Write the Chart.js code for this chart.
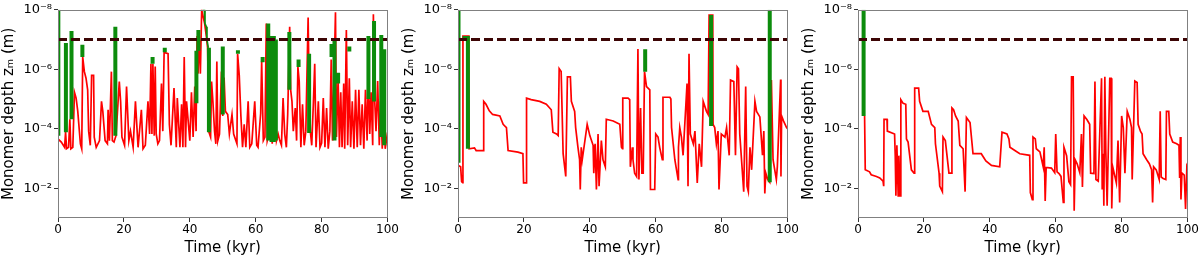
<!DOCTYPE html>
<html>
<head>
<meta charset="utf-8">
<script src="https://cdn.jsdelivr.net/npm/chart.js@4.4.1/dist/chart.umd.min.js"></script>
<style>
  html, body { margin: 0; padding: 0; background: #fff; }
  #wrap { position: relative; width: 1200px; height: 257px; }
  .panel { position: absolute; top: 0; width: 400px; height: 257px; }
</style>
</head>
<body>
<div id="wrap">
  <div class="panel" style="left:0px"><canvas id="c1" width="400" height="257"></canvas></div>
  <div class="panel" style="left:400px"><canvas id="c2" width="400" height="257"></canvas></div>
  <div class="panel" style="left:800px"><canvas id="c3" width="400" height="257"></canvas></div>
</div>
<script>
/* Monomer depth vs time, three runs.
   red = depth track [t (kyr), z (m)], green = marked intervals [t, z top, z bottom] */

const xTickValues = [0, 20, 40, 60, 80, 100];
const yTickValues = [1e-8, 1e-6, 1e-4, 1e-2];
const yTickLabels = ['10⁻⁸', '10⁻⁶', '10⁻⁴', '10⁻²'];
const threshold = 1e-7;

const red1 = [
  [0,2.2e-4],[1,2.8e-4],[2,4.2e-4],[2.3,1.3e-4],[2.6,4.7e-4],[3.2,4.2e-4],[3.6,4.8e-5],[3.9,4.7e-4],[4.5,4.2e-4],[5.0,5.9e-6],
  [5.5,9.3e-6],[6.0,2.6e-5],[6.8,3.2e-4],[7.2,4.7e-4],[7.5,3.9e-7],[8.0,1.2e-6],[8.5,2.0e-6],[9.0,4.9e-6],[9.3,1.2e-4],[9.8,3.6e-4],
  [10.2,1.6e-6],[10.8,1.6e-6],[11.0,1.9e-4],[11.6,4.2e-4],[12.6,2.5e-4],[13.2,1.2e-5],[13.6,2.6e-5],[14.3,2.5e-4],[15.0,3.2e-4],[15.2,2.3e-5],
  [15.6,2.5e-4],[16.2,1.2e-6],[16.5,2.5e-4],[17.0,2.8e-4],[17.6,1.7e-4],[18.3,9.3e-6],[18.6,2.6e-6],[19.0,1.2e-5],[19.4,1.9e-4],[20.2,3.6e-4],
  [20.8,3.8e-6],[21.5,2.5e-4],[22.0,1.2e-4],[22.8,4.2e-4],[23.5,1.2e-5],[24.3,4.2e-4],[25.3,2.3e-5],[25.8,4.7e-4],[26.5,3.6e-4],[27.3,1.2e-5],
  [27.8,1.5e-4],[28.2,6.5e-7],[28.5,1.5e-4],[28.8,6.5e-7],[29.2,1.7e-4],[29.5,8e-7],[29.8,1.5e-4],[30.3,3.2e-4],[30.8,2.5e-4],[31.4,3.0e-6],
  [31.8,1.2e-4],[32.2,2.7e-7],[33.4,3.0e-7],[33.8,7.1e-5],[34.3,3.6e-4],[35.2,4.3e-6],[35.9,4.2e-4],[36.2,9.3e-6],[37.0,4.2e-4],[37.5,1.5e-5],
  [37.9,4.2e-4],[38.3,3.9e-7],[38.7,4.2e-4],[39.0,1.2e-5],[40.0,2.5e-4],[40.5,5.9e-6],[41.0,1.9e-4],[41.5,3.8e-6],[41.9,1.2e-4],[42.2,7.6e-8],
  [42.5,1.4e-6],[42.8,5.2e-8],[43.2,1.4e-6],[43.6,1.0e-8],[44.5,2.9e-8],[45.0,7.6e-8],[45.4,1.9e-7],[45.8,1.3e-4],[46.3,1.9e-4],[46.6,2.6e-6],
  [47.0,1.2e-5],[47.5,1.2e-4],[47.9,3.2e-4],[48.2,5.5e-7],[48.5,2.5e-4],[49.0,1.5e-4],[49.6,1.2e-6],[50.0,3.7e-5],[50.4,1.9e-6],[50.8,2.6e-5],
  [51.5,3.3e-5],[52.0,1.5e-4],[52.8,3.3e-5],[53.3,1.5e-4],[54.3,3.2e-4],[54.5,3.0e-7],[55.0,1.6e-6],[55.5,3.7e-5],[56.0,4.2e-4],[56.5,7.1e-5],
  [57.0,4.2e-4],[57.7,1.2e-5],[58.2,4.2e-4],[58.8,3.2e-4],[59.7,1.2e-5],[60.3,3.6e-4],[60.7,4.2e-4],[61.5,3.0e-5],[61.8,5.5e-7],[62.3,2.5e-4],
  [62.8,1.9e-4],[63.2,2.9e-8],[63.5,2.5e-4],[64.0,1.5e-4],[64.5,1.2e-5],[65.0,3.2e-4],[65.8,1.5e-5],[66.3,2.5e-4],[66.8,1.5e-4],[67.3,2.5e-4],
  [67.8,3.6e-4],[68.3,9.3e-6],[68.8,1.5e-4],[69.3,4.2e-4],[69.7,3.3e-5],[70.3,3.7e-8],[70.6,4.9e-6],[71.0,1.2e-5],[71.4,1.2e-4],[72.0,2.0e-5],
  [72.4,2.5e-4],[72.8,8.3e-7],[73.2,2.6e-6],[73.7,4.2e-4],[74.2,1.5e-5],[74.7,3.6e-4],[75.2,1.2e-4],[75.9,1.8e-8],[76.2,4.9e-6],[76.6,1.3e-4],
  [77.0,3.6e-4],[77.5,1.3e-5],[77.9,6.5e-7],[78.3,4.2e-4],[79.0,1.2e-5],[79.5,4.2e-4],[80.0,3.0e-4],[80.5,9.3e-6],[81.0,4.2e-4],[81.5,2.0e-5],
  [82.0,4.7e-4],[82.5,1.2e-4],[82.9,4.7e-7],[83.3,2.5e-4],[83.8,1.2e-6],[84.2,1.2e-8],[84.5,1.9e-4],[85.0,2.0e-6],[85.4,4.2e-4],[85.8,5.9e-6],
  [86.2,4.2e-4],[86.7,3.0e-6],[87.0,4.7e-4],[87.5,4.8e-8],[87.9,3.6e-4],[88.4,2.0e-6],[88.8,4.2e-4],[89.3,1.2e-5],[89.8,4.7e-4],[90.3,4.9e-6],
  [90.8,4.2e-4],[91.3,4.9e-6],[91.8,3.6e-4],[92.3,1.5e-5],[92.8,4.7e-4],[93.3,4.9e-6],[93.8,2.5e-4],[94.2,1.2e-6],[94.6,1.5e-4],[95.0,5.9e-6],
  [95.5,3.6e-4],[95.7,1.4e-8],[96.0,5.9e-6],[96.5,1.2e-4],[97.0,2.5e-6],[97.5,3.6e-4],[97.9,1.2e-5],[98.4,4.7e-4],[98.8,2.6e-5],[99.3,4.7e-4],
  [99.8,1.9e-4],[100,2.5e-4]
];
const green1 = [
  [0.1,1e-8,1.7e-4],[2.4,1.3e-7,1.3e-4],[4.1,5.2e-8,4.8e-5],[7.4,1.5e-7,3.9e-7],[17.4,3.7e-8,1.7e-4],[28.7,3.9e-7,6.5e-7],
  [32.4,1.9e-7,2.7e-7],[42.0,2.4e-7,1.4e-5],[42.6,4.8e-8,2.4e-7],[45.8,1.9e-7,1.3e-4],[50.0,1.7e-7,3.3e-5],[54.6,2.3e-7,3.0e-7],
  [62.1,3.9e-7,5.8e-7],[63.8,2.9e-8,2.5e-4],[64.8,7.6e-8,2.8e-4],[65.5,7.6e-8,2.8e-4],[66.1,1.0e-7,2.5e-4],[70.2,5.6e-8,4.9e-6],
  [73.0,4.7e-7,8.3e-7],[76.2,3.0e-7,1.4e-4],[83.0,1.4e-7,3.9e-7],[83.9,1.0e-7,2.5e-4],[85.0,1.3e-6,3.0e-6],[88.4,1.7e-7,2.5e-7],
  [94.2,7.6e-8,1.0e-5],[95.9,2.4e-8,1.2e-5],[98.1,7.0e-8,1.9e-4],[99.0,2.1e-7,3.6e-4]
];
const greenTrail1 = [[43.9,1e-8],[44.4,1.0e-8],[44.6,2.9e-8],[45.0,3.7e-8],[45.2,1.0e-7],[45.6,1.9e-7]];

const red2 = [
  [0,1.7e-3],[0.8,1.9e-3],[1.1,6e-3],[1.4,6.5e-3],[1.5,7.6e-8],[3.3,7.6e-8],[3.4,4.7e-4],[5.0,4.4e-4],[5.5,5.4e-4],[7.6,5.4e-4],
  [7.8,1.2e-5],[8.5,1.5e-5],[9.5,2.5e-5],[10.5,3.3e-5],[12.7,3.7e-5],[13.7,7.1e-5],[14.7,9.1e-5],[15.2,5.4e-4],[18.2,6.1e-4],[19.7,6.9e-4],
  [19.9,6.6e-3],[20.7,6.6e-3],[20.8,9.3e-6],[22.2,1.05e-5],[24.8,1.2e-5],[26.8,1.5e-5],[28.3,2.3e-5],[28.8,1.3e-4],[29.9,1.5e-4],[30.4,1.7e-4],
  [30.7,9.6e-7],[31.3,1.2e-6],[31.9,6.9e-4],[32.7,4.0e-3],[33.2,1.8e-6],[34.1,1.8e-6],[34.4,1.2e-5],[35.4,2.6e-5],[35.7,9.1e-5],[36.4,4.2e-4],
  [36.9,1.1e-3],[37.1,1.1e-2],[37.4,4.2e-4],[37.7,1.1e-3],[39.2,7.1e-5],[40.0,1.7e-4],[41.0,3.6e-4],[41.2,3.1e-3],[41.6,3.2e-4],[42.0,1.1e-2],
  [42.5,1.5e-4],[42.8,8.5e-3],[43.5,2.5e-4],[44.0,1.1e-3],[44.7,1.9e-3],[45.0,4.8e-5],[47.1,5.5e-5],[49.1,7.1e-5],[49.6,4.2e-4],[49.9,4.7e-4],
  [50.0,9.3e-6],[51.6,9.3e-6],[52.1,1.05e-5],[52.3,1.9e-3],[52.9,4.2e-4],[53.1,1.1e-3],[53.6,3.1e-3],[54.2,4.0e-3],[54.6,2.1e-7],[54.9,5.1e-3],
  [55.4,2.0e-5],[55.8,3.1e-3],[56.2,3.1e-3],[56.6,1.2e-6],[57.2,3.8e-6],[58.2,4.9e-6],[58.4,1.1e-2],[59.7,1.1e-2],[60.0,1.5e-4],[60.7,1.9e-4],
  [61.2,4.2e-4],[62.0,1.1e-3],[62.2,8.7e-6],[64.3,8.7e-6],[64.6,1.0e-5],[64.8,9.1e-5],[65.8,1.1e-3],[66.8,5.1e-3],[66.9,4.2e-4],[67.3,9.1e-5],
  [67.8,1.9e-4],[68.3,7.8e-4],[69.5,3.0e-6],[69.8,8.5e-3],[70.1,3.0e-7],[70.5,1.5e-4],[71.4,3.2e-4],[71.9,1.2e-4],[72.6,6.6e-3],[73.2,3.2e-4],
  [73.9,1.9e-3],[74.4,1.2e-5],[75.4,2.6e-5],[75.9,3.3e-5],[76.2,1.5e-8],[77.3,1.5e-8],[77.4,7.1e-5],[77.9,9.1e-5],[78.4,3.2e-4],[78.9,1.2e-4],
  [79.2,1.1e-2],[79.9,1.5e-4],[81.0,1.9e-4],[81.5,9.1e-5],[82.3,7.8e-4],[82.7,2.3e-6],[83.7,2.6e-6],[84.2,7.8e-4],[84.7,8.3e-7],[85.1,9.6e-7],
  [85.5,1.5e-4],[86.7,1.3e-2],[87.3,3.8e-6],[87.7,8.5e-3],[88.1,1.3e-2],[88.6,4.2e-4],[89.1,2.4e-3],[90.1,1.2e-5],[90.6,2.6e-5],[91.6,4.0e-5],
  [92.4,7.8e-4],[92.8,1.2e-4],[93.1,1.5e-2],[93.4,3.1e-3],[94.0,5.1e-3],[94.6,6.3e-3],[95.1,2.3e-6],[95.6,1.1e-3],[96.6,5.1e-3],[96.9,1.9e-3],
  [97.9,2.2e-6],[98.0,4.0e-3],[98.2,3.7e-5],[98.8,5.5e-5],[99.7,9.1e-5],[100,1.0e-4]
];
const green2 = [
  [0.15,1e-8,1.4e-3],[2.0,7.6e-8,1.1e-7],[3.0,7.6e-8,4.7e-4],[56.8,2.1e-7,1.2e-6],[76.8,1.5e-8,8.0e-5],[94.6,1e-8,6.3e-3]
];

const red3 = [
  [2.0,3.7e-5],[2.2,2.4e-3],[3.5,2.8e-3],[4.0,3.5e-3],[5.6,4.0e-3],[6.6,4.5e-3],[7.6,5.8e-3],[7.8,8.5e-3],[7.9,4.8e-5],[8.8,4.8e-5],
  [8.9,1.2e-4],[11.1,1.5e-4],[11.3,8e-4],[11.5,1.8e-2],[11.8,3.6e-4],[12.2,1.8e-2],[12.4,8e-4],[12.8,1.8e-2],[13.0,1.05e-5],[13.7,1.4e-5],
  [14.5,1.5e-5],[14.7,2.2e-4],[15.2,2.8e-4],[16.2,2.4e-3],[17.0,3.1e-3],[17.2,4.3e-6],[18.4,4.3e-6],[18.7,1.2e-5],[19.7,2.6e-5],[21.3,2.6e-5],
  [22.3,7.1e-5],[23.3,9.1e-5],[23.5,3.2e-4],[24.6,3.1e-3],[24.8,8.5e-3],[25.6,1.3e-2],[25.8,1.9e-4],[26.5,2.5e-4],[27.6,3.1e-3],[28.3,3.1e-3],
  [28.5,2.0e-5],[29.0,2.3e-5],[29.6,3.7e-5],[30.4,5.5e-5],[30.9,3.6e-4],[31.9,4.7e-4],[32.5,1.3e-2],[32.9,4.2e-5],[34.0,6.2e-5],[34.9,6.9e-4],
  [37.4,6.9e-4],[38.8,1.2e-3],[40.5,1.7e-3],[43.0,1.9e-3],[43.7,1.3e-4],[45.2,1.5e-4],[45.8,2.2e-4],[46.1,4.2e-4],[47.6,5.4e-4],[49.1,6.9e-4],
  [52.1,7.8e-4],[52.3,1.4e-2],[52.9,2.4e-2],[53.1,1.9e-4],[53.8,2.2e-4],[54.1,4.7e-4],[55.2,6.0e-4],[56.2,1.9e-3],[56.5,4.2e-4],[56.8,2.7e-2],
  [57.1,2.0e-3],[58.7,2.1e-3],[59.7,3.0e-3],[60.0,1.5e-4],[60.4,2.8e-3],[61.0,3.2e-3],[61.6,4.0e-3],[62.3,3.0e-2],[62.5,4.2e-4],[63.3,8.0e-4],
  [64.0,6.0e-3],[64.5,7.5e-3],[64.8,1.8e-6],[65.3,1.8e-6],[65.6,5.7e-2],[65.9,1.1e-3],[66.5,1.5e-3],[67.3,3.0e-3],[67.8,1.5e-4],[68.1,9e-3],
  [68.6,3.7e-5],[69.5,5e-5],[70.3,7.1e-5],[70.6,3.1e-3],[71.6,3.2e-3],[71.9,2.6e-6],[72.2,5.1e-3],[72.9,5.8e-3],[73.9,2.0e-6],[74.1,1.1e-2],
  [74.4,6.9e-4],[74.6,3.9e-2],[74.9,1.8e-6],[75.2,5.4e-4],[75.6,3.9e-2],[76.4,2.0e-6],[76.8,2.0e-6],[77.0,4.8e-2],[77.3,1.9e-3],[78.4,6.6e-3],
  [78.9,2.5e-4],[79.4,3.0e-2],[80.0,3.7e-5],[80.5,9.1e-5],[81.0,3.1e-3],[81.7,2.6e-5],[82.5,4.8e-5],[83.0,9.1e-5],[83.2,5.1e-3],[84.0,2.5e-6],
  [84.7,2.8e-6],[85.0,7.1e-5],[85.7,1.2e-4],[86.2,1.5e-4],[86.5,6.9e-4],[87.6,1.1e-3],[88.4,1.5e-3],[89.1,2.4e-3],[89.4,3.0e-2],[89.7,1.9e-3],
  [90.5,2.4e-3],[91.4,5.1e-3],[91.7,2.6e-5],[92.0,4.2e-3],[92.6,4.7e-3],[93.4,5.1e-3],[93.6,2.6e-5],[94.3,2.6e-5],[94.6,1.5e-4],[95.5,2.8e-4],
  [96.7,3.2e-4],[97.4,3.6e-4],[97.6,4.5e-3],[97.8,1.9e-4],[98.0,2.4e-2],[98.3,3.1e-3],[99.0,3.6e-3],[99.4,5.0e-2],[99.8,1.8e-3],[100,2.0e-3]
];
const green3 = [[1.7,1e-8,3.7e-5]];

Chart.defaults.font.family = "'DejaVu Sans', sans-serif";
Chart.defaults.color = '#000';

// matplotlib-like box around the axes
const frame = {
  id: 'frame',
  afterDraw(chart) {
    const { ctx, chartArea: a } = chart;
    ctx.save();
    ctx.strokeStyle = '#808080';
    ctx.lineWidth = 1;
    ctx.strokeRect(Math.round(a.left) + 0.5, Math.round(a.top) + 0.5,
      Math.round(a.right - a.left) - 1, Math.round(a.bottom - a.top) - 1);
    ctx.restore();
  }
};

function segments(bars) {
  const pts = [];
  bars.forEach(([t, top, bot]) => {
    pts.push({ x: t, y: top }, { x: t, y: bot }, { x: t, y: null });
  });
  return pts;
}

const toPts = arr => arr.map(([x, y]) => ({ x, y }));

function makePanel(id, red, green, trail) {
  const datasets = [
    {
      data: [{ x: 0, y: threshold }, { x: 100, y: threshold }],
      borderColor: '#3c0505', borderWidth: 3, borderDash: [9, 4]
    },
    {
      data: segments(green), borderColor: '#0c8c0c', borderWidth: 4,
      borderCapStyle: 'butt', spanGaps: false
    },
    {
      data: toPts(trail || []), borderColor: '#0c8c0c', borderWidth: 1.7
    },
    {
      data: toPts(red), borderColor: '#ff0000', borderWidth: 1.7
    }
  ];

  new Chart(document.getElementById(id), {
    type: 'line',
    data: { datasets },
    options: {
      responsive: false,
      animation: false,
      elements: { point: { radius: 0 }, line: { tension: 0, fill: false } },
      layout: { padding: { top: 7, right: 12, left: 0, bottom: 0 } },
      plugins: { legend: { display: false }, tooltip: { enabled: false } },
      scales: {
        x: {
          type: 'linear', min: 0, max: 100,
          afterBuildTicks: s => { s.ticks = xTickValues.map(v => ({ value: v })); },
          afterFit: s => { s.height = 39; },
          ticks: { font: { size: 12 }, padding: 1, maxRotation: 0, color: '#000' },
          grid: { drawOnChartArea: false, tickLength: 4, color: '#333' },
          border: { display: false },
          title: { display: true, text: 'Time (kyr)', font: { size: 15 }, padding: 0, color: '#000' }
        },
        y: {
          type: 'logarithmic', reverse: true, min: 1e-8, max: 1e-1,
          afterBuildTicks: s => { s.ticks = yTickValues.map(v => ({ value: v })); },
          afterFit: s => { s.width = 58; },
          ticks: {
            font: { size: 13 }, padding: 2, color: '#000',
            callback: v => { const i = yTickValues.indexOf(v); return i < 0 ? '' : yTickLabels[i]; }
          },
          grid: { drawOnChartArea: false, tickLength: 4, color: '#333' },
          border: { display: false },
          title: { display: true, text: 'Monomer depth zₘ (m)', font: { size: 15 }, padding: 0, color: '#000' }
        }
      }
    },
    plugins: [frame]
  });
}

makePanel('c1', red1, green1, greenTrail1);
makePanel('c2', red2, green2);
makePanel('c3', red3, green3);
</script>
</body>
</html>
